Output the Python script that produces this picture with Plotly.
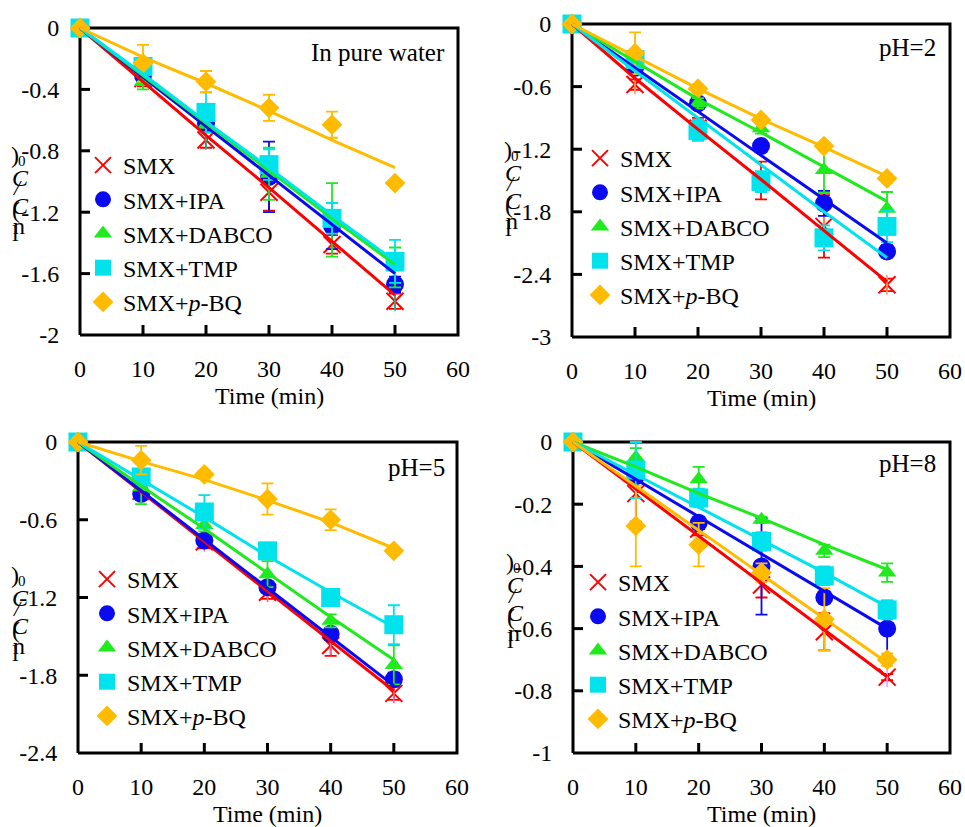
import plotly.graph_objects as go

# ---------------------------------------------------------------- data
time = [0, 10, 20, 30, 40, 50]

series_names = ["SMX", "SMX+IPA", "SMX+DABCO", "SMX+TMP", "SMX+<i>p</i>-BQ"]

# In pure water
pw_smx = [0, -0.33, -0.73, -1.07, -1.41, -1.78]
pw_ipa = [0, -0.31, -0.62, -0.97, -1.29, -1.67]
pw_dabco = [0, -0.35, -0.63, -0.95, -1.25, -1.56]
pw_tmp = [0, -0.25, -0.55, -0.89, -1.24, -1.52]
pw_pbq = [0, -0.23, -0.35, -0.52, -0.63, -1.01]
pw_smx_err = [0, 0.05, 0.05, 0.12, 0.06, 0.05]
pw_ipa_err = [0, 0.04, 0.05, 0.23, 0.15, 0.05]
pw_dabco_err = [0, 0.05, 0.05, 0.17, 0.24, 0.13]
pw_tmp_err = [0, 0.05, 0.13, 0.10, 0.10, 0.14]
pw_pbq_err = [0, 0.12, 0.07, 0.085, 0.085, 0.02]
pw_smx_fit = [0, -0.35, -0.70, -1.04, -1.39, -1.74]
pw_ipa_fit = [0, -0.32, -0.64, -0.96, -1.28, -1.60]
pw_dabco_fit = [0, -0.31, -0.62, -0.93, -1.24, -1.54]
pw_tmp_fit = [0, -0.30, -0.61, -0.91, -1.22, -1.52]
pw_pbq_fit = [0, -0.19, -0.36, -0.54, -0.73, -0.91]

# pH = 2
p2_smx = [0, -0.58, -1.00, -1.50, -1.94, -2.50]
p2_ipa = [0, -0.42, -0.76, -1.17, -1.72, -2.18]
p2_dabco = [0, -0.32, -0.76, -1.00, -1.40, -1.77]
p2_tmp = [0, -0.34, -1.02, -1.51, -2.05, -1.94]
p2_pbq = [0, -0.28, -0.62, -0.92, -1.17, -1.48]
p2_smx_err = [0, 0.05, 0.10, 0.18, 0.30, 0.06]
p2_ipa_err = [0, 0.05, 0.05, 0.05, 0.12, 0.06]
p2_dabco_err = [0, 0.05, 0.05, 0.05, 0.22, 0.16]
p2_tmp_err = [0, 0.05, 0.10, 0.10, 0.12, 0.15]
p2_pbq_err = [0, 0.20, 0.04, 0.04, 0.04, 0.04]
p2_smx_fit = [0, -0.52, -1.01, -1.49, -1.98, -2.47]
p2_ipa_fit = [0, -0.42, -0.84, -1.26, -1.68, -2.10]
p2_dabco_fit = [0, -0.36, -0.72, -1.04, -1.37, -1.70]
p2_tmp_fit = [0, -0.45, -0.90, -1.35, -1.80, -2.24]
p2_pbq_fit = [0, -0.31, -0.62, -0.91, -1.18, -1.46]

# pH = 5
p5_smx = [0, -0.38, -0.77, -1.16, -1.57, -1.94]
p5_ipa = [0, -0.40, -0.76, -1.12, -1.48, -1.83]
p5_dabco = [0, -0.35, -0.64, -1.02, -1.38, -1.72]
p5_tmp = [0, -0.27, -0.54, -0.84, -1.20, -1.41]
p5_pbq = [0, -0.14, -0.25, -0.44, -0.60, -0.84]
p5_smx_err = [0, 0.05, 0.05, 0.05, 0.08, 0.05]
p5_ipa_err = [0, 0.04, 0.04, 0.04, 0.04, 0.05]
p5_dabco_err = [0, 0.13, 0.05, 0.10, 0.05, 0.15]
p5_tmp_err = [0, 0.05, 0.13, 0.05, 0.05, 0.15]
p5_pbq_err = [0, 0.11, 0.03, 0.12, 0.08, 0.03]
p5_smx_fit = [0, -0.384, -0.768, -1.15, -1.54, -1.92]
p5_ipa_fit = [0, -0.376, -0.75, -1.13, -1.50, -1.88]
p5_dabco_fit = [0, -0.34, -0.67, -1.01, -1.35, -1.68]
p5_tmp_fit = [0, -0.29, -0.58, -0.88, -1.16, -1.43]
p5_pbq_fit = [0, -0.15, -0.29, -0.45, -0.62, -0.82]

# pH = 8
p8_smx = [0, -0.166, -0.28, -0.46, -0.61, -0.756]
p8_ipa = [0, -0.11, -0.26, -0.40, -0.50, -0.60]
p8_dabco = [0, -0.05, -0.12, -0.25, -0.35, -0.42]
p8_tmp = [0, -0.09, -0.18, -0.32, -0.43, -0.54]
p8_pbq = [0, -0.27, -0.33, -0.42, -0.57, -0.70]
p8_smx_err = [0, 0.09, 0.02, 0.04, 0.06, 0.01]
p8_ipa_err = [0, 0.02, 0.02, 0.155, 0.02, 0.09]
p8_dabco_err = [0, 0.03, 0.04, 0.01, 0.02, 0.03]
p8_tmp_err = [0, 0.09, 0.03, 0.03, 0.03, 0.03]
p8_pbq_err = [0, 0.13, 0.07, 0.03, 0.10, 0.02]
p8_smx_fit = [0, -0.151, -0.302, -0.453, -0.604, -0.755]
p8_ipa_fit = [0, -0.12, -0.24, -0.36, -0.48, -0.60]
p8_dabco_fit = [0, -0.08, -0.165, -0.245, -0.33, -0.41]
p8_tmp_fit = [0, -0.105, -0.21, -0.315, -0.42, -0.53]
p8_pbq_fit = [0, -0.142, -0.284, -0.426, -0.568, -0.71]

x_ticks = [0, 10, 20, 30, 40, 50, 60]
pw_yticks = [0, -0.4, -0.8, -1.2, -1.6, -2]
p2_yticks = [0, -0.6, -1.2, -1.8, -2.4, -3]
p5_yticks = [0, -0.6, -1.2, -1.8, -2.4]
p8_yticks = [0, -0.2, -0.4, -0.6, -0.8, -1]
pw_ylabels = ["0", "-0.4", "-0.8", "-1.2", "-1.6", "-2"]
p2_ylabels = ["0", "-0.6", "-1.2", "-1.8", "-2.4", "-3"]
p5_ylabels = ["0", "-0.6", "-1.2", "-1.8", "-2.4"]
p8_ylabels = ["0", "-0.2", "-0.4", "-0.6", "-0.8", "-1"]

panel_titles = ["In pure water", "pH=2", "pH=5", "pH=8"]

# ---------------------------------------------------------------- style
FONT = "Liberation Serif, Times New Roman, serif"
COLORS = ["#FF0000", "#0A0AF0", "#1EEA1E", "#00E3EC", "#FFBB00"]
SYMBOLS = ["x-thin-open", "circle", "triangle-up", "square", "diamond"]
SIZES = [17, 18, 16, 19, 16]
FRAME_W = 3
TICK_LEN = 10  # px
PAD = 3        # px of room around the frame so its stroke is not clipped

W, H = 965, 827


def fx(p):
    return p / W


def fy(p):
    return 1 - p / H


# plot boxes in pixels: left, right, top, bottom
boxes = [(80, 458, 28, 335), (572, 950, 24, 337), (78, 457, 442, 753), (573, 950, 442, 753)]

panels = [
    dict(marks=[pw_smx, pw_ipa, pw_dabco, pw_tmp, pw_pbq],
         errs=[pw_smx_err, pw_ipa_err, pw_dabco_err, pw_tmp_err, pw_pbq_err],
         fits=[pw_smx_fit, pw_ipa_fit, pw_dabco_fit, pw_tmp_fit, pw_pbq_fit],
         yr=[-2, 0], yt=pw_yticks, yl=pw_ylabels),
    dict(marks=[p2_smx, p2_ipa, p2_dabco, p2_tmp, p2_pbq],
         errs=[p2_smx_err, p2_ipa_err, p2_dabco_err, p2_tmp_err, p2_pbq_err],
         fits=[p2_smx_fit, p2_ipa_fit, p2_dabco_fit, p2_tmp_fit, p2_pbq_fit],
         yr=[-3, 0], yt=p2_yticks, yl=p2_ylabels),
    dict(marks=[p5_smx, p5_ipa, p5_dabco, p5_tmp, p5_pbq],
         errs=[p5_smx_err, p5_ipa_err, p5_dabco_err, p5_tmp_err, p5_pbq_err],
         fits=[p5_smx_fit, p5_ipa_fit, p5_dabco_fit, p5_tmp_fit, p5_pbq_fit],
         yr=[-2.4, 0], yt=p5_yticks, yl=p5_ylabels),
    dict(marks=[p8_smx, p8_ipa, p8_dabco, p8_tmp, p8_pbq],
         errs=[p8_smx_err, p8_ipa_err, p8_dabco_err, p8_tmp_err, p8_pbq_err],
         fits=[p8_smx_fit, p8_ipa_fit, p8_dabco_fit, p8_tmp_fit, p8_pbq_fit],
         yr=[-1, 0], yt=p8_yticks, yl=p8_ylabels),
]

# legend anchor (left, top) in pixels for each panel
legend_pos = [(83, 143), (580, 136), (87, 557), (578, 560)]
# top of the stacked y-axis label for each panel
ylab_pos = [(15, 155), (508, 150), (15, 575), (510, 562)]
# panel caption right edge / centre line
caption_pos = [(447, 52), (938, 48), (447, 467), (938, 463)]

fig = go.Figure()
annotations = []
layout = {}

for i, (pan, box) in enumerate(zip(panels, boxes)):
    n = i + 1
    xa = "x" if n == 1 else f"x{n}"
    ya = "y" if n == 1 else f"y{n}"
    leg = "legend" if n == 1 else f"legend{n}"
    left, right, top, bottom = box
    x0, x1 = x_ticks[0], x_ticks[-1]
    y0, y1 = pan["yr"]
    xs = (x1 - x0) / (right - left)   # data units per pixel
    ys = (y1 - y0) / (bottom - top)

    # frame box drawn along the axis ranges, with inward ticks
    fr_x = [x0, x1, x1, x0, x0, None]
    fr_y = [y0, y0, y1, y1, y0, None]
    for v in x_ticks[1:-1]:
        fr_x += [v, v, None]
        fr_y += [y0, y0 + TICK_LEN * ys, None]
    for v in pan["yt"][1:-1]:
        fr_x += [x0, x0 + TICK_LEN * xs, None]
        fr_y += [v, v, None]
    fig.add_trace(go.Scatter(
        x=fr_x, y=fr_y, mode="lines", showlegend=False, hoverinfo="skip",
        xaxis=xa, yaxis=ya, cliponaxis=False, connectgaps=False,
        line=dict(color="black", width=FRAME_W),
    ))

    # markers with error bars
    for k in range(5):
        fig.add_trace(go.Scatter(
            x=time, y=pan["marks"][k], mode="markers", name=series_names[k],
            xaxis=xa, yaxis=ya, legend=leg, cliponaxis=False,
            marker=dict(symbol=SYMBOLS[k], size=SIZES[k], color=COLORS[k],
                        line=dict(width=2 if k == 0 else 0, color=COLORS[k])),
            error_y=dict(type="data", array=pan["errs"][k], visible=True,
                         color=COLORS[k], thickness=1.8, width=6),
        ))
        if k == 0:
            # vertical stroke completing the asterisk symbol
            fig.add_trace(go.Scatter(
                x=time, y=pan["marks"][k], mode="markers", showlegend=False,
                xaxis=xa, yaxis=ya, cliponaxis=False, hoverinfo="skip",
                marker=dict(symbol="line-ns-open", size=14,
                            line=dict(width=1.6, color=COLORS[k])),
            ))
    # fitted lines
    for k in range(5):
        fig.add_trace(go.Scatter(
            x=time, y=pan["fits"][k], mode="lines", showlegend=False,
            xaxis=xa, yaxis=ya, cliponaxis=False, hoverinfo="skip",
            line=dict(color=COLORS[k], width=3),
        ))

    # axes widened by PAD pixels on each side, so the frame sits inside the clip area
    xdom = [fx(left - PAD), fx(right + PAD)]
    ydom = [fy(bottom + PAD), fy(top - PAD)]
    xrng = [x0 - PAD * xs, x1 + PAD * xs]
    yrng = [y0 - PAD * ys, y1 + PAD * ys]

    # axes carry only the tick labels; transparent ticks space them out
    lab = dict(
        showline=False, showgrid=False, zeroline=False, automargin=False,
        ticks="outside", tickcolor="rgba(0,0,0,0)",
        tickfont=dict(family=FONT, size=24, color="black"),
    )
    layout["xaxis" if n == 1 else f"xaxis{n}"] = dict(
        lab, domain=xdom, range=xrng, tickvals=x_ticks,
        ticktext=[str(v) for v in x_ticks], anchor=ya, ticklen=12 - PAD)
    layout["yaxis" if n == 1 else f"yaxis{n}"] = dict(
        lab, domain=ydom, range=yrng, tickvals=pan["yt"],
        ticktext=pan["yl"], anchor=xa, ticklen=15 - PAD)

    lx, ly = legend_pos[i]
    layout[leg] = dict(
        x=fx(lx), y=fy(ly), xanchor="left", yanchor="top",
        bgcolor="rgba(0,0,0,0)", borderwidth=0, itemsizing="trace",
        font=dict(family=FONT, size=24, color="black"),
        tracegroupgap=0,
    )

    # x-axis title
    annotations.append(dict(
        text="Time (min)", xref="paper", yref="paper",
        x=fx((left + right) / 2), y=fy(bottom + 61), xanchor="center", yanchor="middle",
        showarrow=False, font=dict(family=FONT, size=24, color="black"),
    ))
    # panel caption
    cx, cy = caption_pos[i]
    annotations.append(dict(
        text=panel_titles[i], xref="paper", yref="paper",
        x=fx(cx), y=fy(cy), xanchor="right", yanchor="middle",
        showarrow=False, font=dict(family=FONT, size=25, color="black"),
    ))
    # y-axis label ln(C/C0), glyphs stacked upright
    ax0, ay0 = ylab_pos[i]
    glyphs = [(")", 0, 0, 24, False), ("0", 7, 6, 15, False), ("C", 5, 23, 24, True),
              ("/", 2, 33, 22, True), ("C", 5, 51, 24, True), ("(", 1, 55, 24, False),
              ("n", 4, 71, 24, False), ("l", 0, 78, 24, False)]
    for ch, gx, gy, sz, it in glyphs:
        annotations.append(dict(
            text=f"<i>{ch}</i>" if it else ch, xref="paper", yref="paper",
            x=fx(ax0 + gx), y=fy(ay0 + gy), xanchor="center", yanchor="middle",
            showarrow=False, font=dict(family=FONT, size=sz, color="black"),
        ))

fig.update_layout(
    width=W, height=H, margin=dict(l=0, r=0, t=0, b=0, autoexpand=False),
    paper_bgcolor="white", plot_bgcolor="rgba(0,0,0,0)",
    font=dict(family=FONT, size=24, color="black"),
    annotations=annotations, **layout,
)

fig.write_html("out.html")
